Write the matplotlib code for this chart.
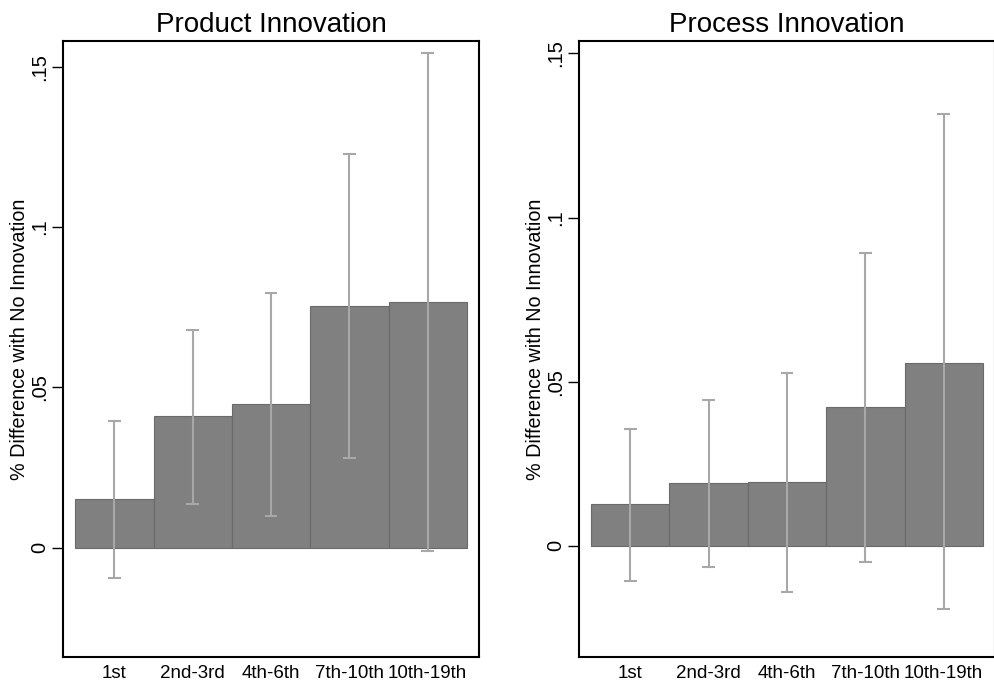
import numpy as np
import matplotlib.pyplot as plt

plt.rcParams['font.family'] = ['Liberation Sans', 'DejaVu Sans']

categories = ['1st', '2nd-3rd', '4th-6th', '7th-10th', '10th-19th']

# product innovation: point estimate and CI
prod_mean = [0.0152, 0.0411, 0.0447, 0.0753, 0.0765]
prod_lo = [-0.0094, 0.0136, 0.0100, 0.0281, -0.0012]
prod_hi = [0.0396, 0.0680, 0.0793, 0.1227, 0.1542]

# process innovation
proc_mean = [0.0126, 0.0192, 0.0194, 0.0424, 0.0558]
proc_lo = [-0.0108, -0.0065, -0.0142, -0.0050, -0.0194]
proc_hi = [0.0356, 0.0445, 0.0525, 0.0892, 0.1315]

yticks = [0, 0.05, 0.1, 0.15]
ytick_labels = ['0', '.05', '.1', '.15']

fig = plt.figure(figsize=(9.94, 6.87), dpi=100)
ax1 = fig.add_axes([0.0634, 0.0437, 0.4185, 0.8966])
ax2 = fig.add_axes([0.5825, 0.0437, 0.4185, 0.8966])


def draw(ax, mean, lo, hi, title, ylim):
    x = np.arange(1, len(categories) + 1)
    ax.bar(x, mean, width=1.0, color='#808080', edgecolor='#6a6a6a', linewidth=0.8, zorder=2)
    ax.vlines(x, lo, hi, color='#a8a8a8', linewidth=1.5, zorder=3)
    ax.hlines(lo, x - 0.08, x + 0.08, color='#a8a8a8', linewidth=1.5, zorder=3)
    ax.hlines(hi, x - 0.08, x + 0.08, color='#a8a8a8', linewidth=1.5, zorder=3)
    ax.set_xlim(0.345, 5.655)
    ax.set_ylim(*ylim)
    ax.set_xticks(x)
    ax.set_xticklabels(categories, fontsize=13.5)
    ax.tick_params(axis='x', length=0, pad=6)
    ax.set_yticks(yticks)
    ax.set_yticklabels(ytick_labels, fontsize=14.5, rotation=90, va='center')
    ax.tick_params(axis='y', length=8, width=1, direction='out', pad=2)
    ax.set_ylabel('% Difference with No Innovation', fontsize=14.2, labelpad=1)
    ax.yaxis.label.set_y(0.516)
    ax.set_title(title, fontsize=20, pad=6.5)
    for s in ax.spines.values():
        s.set_linewidth(1.5)


draw(ax1, prod_mean, prod_lo, prod_hi, 'Product Innovation', (-0.0341, 0.158))
draw(ax2, proc_mean, proc_lo, proc_hi, 'Process Innovation', (-0.0339, 0.1538))

fig.savefig('out.png', dpi=100)
